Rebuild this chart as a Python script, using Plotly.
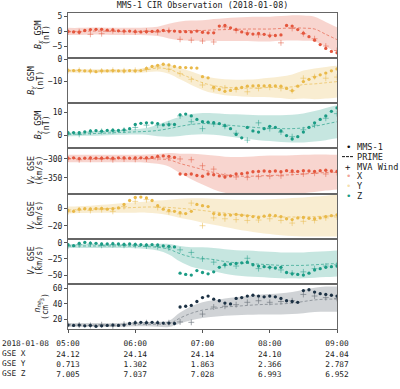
import pandas as pd
import plotly.graph_objects as go
from plotly.subplots import make_subplots

# ---------------- data ----------------
t_mms = pd.date_range("2018-01-08 05:00", "2018-01-08 09:00", freq="5min")
t_prime = pd.date_range("2018-01-08 05:00", "2018-01-08 09:00", freq="10min")

bx_mms = [0, -0.2, -0.3, 0.3, 0.6, 0.7, 0.7, 0.4, 0.5, 0.2, 0.1, 0.1,
          -0.1, -0.2, -0.1, 0, 0.2, 0.3, 0.1, 0.1, -0.1, -0.1, -0.2, 0.1,
          -0.3, -0.5, -0.5, 1.8, 2.0, 1.2, 0.6, -0.2, -0.8, -0.9, -0.7, -1.0,
          -1.5, -1.4, -1.2, 2.0, 1.8, 0.6, -0.6, -1.8, -3.0, -4.5, -5.8, -6.8,
          -7.3]
bx_prime = [0, 0, 0.1, 0.1, 0, 0, 0, 0, 0, 0.1, 0.2, 0.3,
            0.3, 0.5, 0.6, 0.7, 0.8, 0.8, 0.8, 1.0, 1.2, 1.1, 0.8, -1.0, -2.8]
bx_half = [1.2, 1.2, 1.2, 1.2, 1.2, 1.2, 1.2, 1.3, 1.6, 2.5, 3.2, 3.4,
           3.5, 3.7, 3.9, 4.0, 4.1, 4.2, 4.2, 4.2, 4.3, 4.3, 4.2, 4.2, 4.2]
bx_mva = [-0.2, -0.1, -1.0, -0.8, 0.2, -0.1, -0.2, 0.1, -0.3, 0.3, -2.7, -3.0,
          -3.3, -3.6, 1.5, 0.3, -0.5, -1.2, -1.3, -3.9, 1.0, -0.8, -2.5, -5.0, -6.5]

by_mms = [-5.0, -5.1, -5.0, -5.2, -5.3, -5.6, -5.2, -5.2, -5.1, -5.2, -5.3, -5.1,
          -5.2, -5.1, -4.2, -3.3, -2.8, -2.3, -2.6, -3.3, -3.7, -3.8, -3.9, -4.0,
          -7.8, -8.3, -12.5, -13.5, -14.3, -13.9, -13.0, -12.6, -12.0, -11.9, -11.8, -11.9,
          -11.8, -11.9, -12.0, -13.0, -14.0, -12.0, -10.0, -9.0, -8.0, -7.0, -6.2, -5.2,
          -4.4]
by_prime = [-5.2, -5.3, -5.3, -5.3, -5.3, -5.3, -5.3, -4.8, -4.0, -4.5, -6.5, -8.5,
            -10.5, -11.8, -12.5, -12.8, -12.9, -12.8, -12.6, -12.5, -12.3, -11.3, -11.0, -10.5, -10.0]
by_half = [0.8, 0.8, 0.8, 0.8, 0.8, 0.8, 0.8, 1.0, 1.5, 2.0, 2.5, 3.0,
           3.2, 3.4, 3.5, 3.6, 3.8, 4.0, 4.3, 4.8, 5.5, 6.2, 6.8, 7.0, 7.0]
by_mva = [-5.2, -5.0, -5.4, -5.3, -5.0, -5.2, -5.0, -4.5, -3.5, -4.5, -6.5, -9.0,
          -11.5, -13.2, -12.8, -13.5, -14.5, -13.0, -12.5, -13.0, -14.0, -8.5, -7.8, -8.5, -8.0]

bz_mms = [1.2, 1.3, 1.2, 1.6, 2.0, 2.1, 1.9, 2.2, 2.3, 2.2, 2.5, 3.0,
          4.8, 5.3, 5.5, 5.5, 5.2, 4.6, 4.7, 4.8, 9.0, 9.3, 8.5, 7.0,
          6.0, 5.8, 5.6, 5.2, 4.3, 3.0, 0.5, -1.0, 3.5, 2.0, 1.5, 3.0,
          4.0, 3.5, 2.0, 0.0, -1.5, -0.5, 1.5, 3.5, 5.5, 7.0, 8.5, 10.5,
          12.0]
bz_prime = [0.5, 0.6, 0.8, 1.0, 1.2, 1.4, 1.6, 1.8, 2.2, 3.0, 4.0, 4.8,
            5.2, 5.0, 4.6, 4.2, 3.8, 3.4, 3.2, 3.0, 3.0, 3.3, 4.0, 5.0, 6.0]
bz_half = [0.8, 0.8, 0.9, 1.0, 1.0, 1.1, 1.2, 1.5, 2.5, 3.5, 4.2, 4.5,
           4.6, 4.7, 4.8, 5.0, 5.2, 5.4, 5.6, 5.8, 6.0, 6.3, 6.6, 7.0, 7.2]
bz_mva = [0.8, 0.5, 1.5, 1.8, 2.0, 2.3, 3.5, 4.5, 4.5, 5.0, 8.5, 6.0,
          3.0, 5.0, 4.0, 1.0, -2.0, 5.5, 3.0, 1.5, -0.5, 2.5, 4.5, 7.5, 9.5]

vx_mms = [-298, -297, -299, -298, -297, -298, -298, -297, -298, -297, -297, -298,
          -297, -297, -297, -296, -293, -292, -293, -296, -340, -341, -340, -344,
          -346, -340, -342, -345, -348, -345, -340, -339, -337, -334, -333, -332,
          -333, -332, -334, -331, -332, -333, -331, -332, -333, -331, -330, -332,
          -333]
vx_prime = [-299, -299, -299, -299, -299, -299, -299, -299, -300, -302, -312, -320,
            -328, -336, -342, -345, -346, -345, -344, -343, -342, -340, -338, -336, -335]
vx_half = [10, 10, 10, 10, 10, 10, 10, 11, 13, 18, 26, 34,
           40, 45, 48, 50, 52, 53, 53, 52, 52, 51, 50, 48, 46]
vx_mva = [-300, -302, -301, -300, -302, -300, -301, -300, -296, -298, -300, -302,
          -318, -327, -345, -348, -349, -347, -346, -345, -336, -340, -338, -340, -336]

vy_mms = [-2.5, -3.5, -1.0, -0.5, -0.8, -0.4, -0.2, -1.0, -0.5, 0.5, 4.5, 9.0,
          12.5, 13.0, 12.0, 9.0, 3.0, -1.0, -2.5, -3.5, -5.0, -6.0, -3.5, 4.5,
          3.0, 2.0, -6.0, -7.0, -7.5, -7.8, -7.0, -8.0, -8.6, -9.5, -10.5, -9.0,
          -8.0, -8.5, -9.5, -12.0, -13.0, -11.0, -10.5, -11.5, -12.0, -11.0, -9.5, -8.5,
          -7.5]
vy_prime = [-2, -1.5, -1, -0.5, 0, 0.5, 1, 1.5, 1.5, 1, 0, -1,
            -2.5, -4, -5.5, -7, -8, -9, -9.5, -10, -10, -10, -9.5, -9, -8.5]
vy_half = [4, 4, 4, 4.5, 5, 5.5, 6, 6.5, 7.5, 9, 11, 12.5,
           14, 15, 16, 17, 18, 19, 20, 21, 22, 22.5, 23, 23.5, 24]
vy_mva = [-4, -2, -2.5, -1.5, -3.5, 2, 8, 10, 1, -4, -6.5, 6,
          -20, -11, -12, -13, -14, -13.5, -12, -14, -17, -15, -14, -11, -10]

vz_mms = [-3.0, -4.5, -1.0, 0.5, -0.5, -1.0, -2.0, -2.0, -1.5, -2.0, -2.5, -2.0,
          -2.5, -3.0, -3.5, -3.0, -3.5, -5.0, -5.5, -6.5, -47, -49, -50, -43,
          -46, -48, -45, -38, -34, -33, -32, -31, -30, -34, -36, -37,
          -38, -39, -38, -46, -48, -49, -50, -47, -42, -40, -38, -37,
          -36]
vz_prime = [-5, -5, -5, -5, -5, -5, -5.5, -6, -7, -10, -17, -22,
            -24, -26, -29, -31, -32, -33, -34, -35, -35, -35, -34, -33, -32]
vz_half = [3, 3, 3, 3, 3, 3, 3, 3.5, 5, 8, 12, 15,
           17, 18, 19, 19.5, 20, 20, 20, 20, 20, 20, 20, 20, 20]
vz_mva = [-5, -3, -2, -4, -3, -4, -4, -5, -6, -8, -11, -15,
          -25, -30, -35, -36, -24, -40, -38, -42, -47, -45, -40, -36, -34]

n_mms = [13, 12.5, 13, 12, 12.5, 11.5, 12, 12.5, 13, 12.5, 13, 15,
         16, 16.5, 16, 16.5, 16, 15.5, 15.5, 15, 36, 37, 38, 43,
         48, 50, 46, 44, 41, 40, 47, 48, 50, 51, 50, 49,
         50, 49, 47, 44, 43, 42, 57, 58, 55, 53, 52, 51,
         50]
n_prime = [13, 13, 13, 13, 13, 13.5, 14, 14, 14, 14.5, 22, 28,
           32, 34, 36, 37, 38, 39, 39.5, 40, 41, 43, 45, 46, 46]
n_half = [2.5, 2.5, 2.5, 2.5, 2.5, 2.5, 2.5, 2.5, 3, 4, 7, 9,
          10, 10.5, 11, 11.5, 12, 12.5, 13, 13.5, 14, 15, 15.5, 16, 16]
n_mva = [14, 13, 12.5, 13.5, 12, 14, 15.5, 16, 15.5, 16, 17, 16.5,
         27, 36, 37, 39, 42, 44, 42, 43, 44, 52, 50, 48, 47]

tick_times = ["2018-01-08 05:00", "2018-01-08 06:00", "2018-01-08 07:00",
              "2018-01-08 08:00", "2018-01-08 09:00"]
tick_hhmm = ["05:00", "06:00", "07:00", "08:00", "09:00"]
gse_x = ["24.12", "24.14", "24.14", "24.10", "24.04"]
gse_y = ["0.713", "1.302", "1.863", "2.366", "2.787"]
gse_z = ["7.005", "7.037", "7.028", "6.993", "6.952"]

# ---------------- styling ----------------
FONT = "DejaVu Sans Mono"
RED = (228, 87, 62)
YEL = (233, 185, 73)
TEAL = (27, 156, 133)
NAVY = (28, 49, 68)
GREY = (110, 118, 126)


def rgba(c, a):
    return "rgba(%d,%d,%d,%s)" % (c[0], c[1], c[2], a)


panels = [
    dict(mms=bx_mms, prime=bx_prime, half=bx_half, mva=bx_mva, c=RED, pc=RED,
         t1="<i>B<sub>X</sub></i> GSM", t2="(nT)", tx=(38.5, 45.5), rng=[-9.1, 6.25], tv=[-5, 0, 5]),
    dict(mms=by_mms, prime=by_prime, half=by_half, mva=by_mva, c=YEL, pc=YEL,
         t1="<i>B<sub>Y</sub></i> GSM", t2="(nT)", tx=(32, 40), rng=[-19.6, 0.4], tv=[-10, 0]),
    dict(mms=bz_mms, prime=bz_prime, half=bz_half, mva=bz_mva, c=TEAL, pc=TEAL,
         t1="<i>B<sub>Z</sub></i> GSM", t2="(nT)", tx=(38.5, 45.5), rng=[-5.6, 14], tv=[0, 10]),
    dict(mms=vx_mms, prime=vx_prime, half=vx_half, mva=vx_mva, c=RED, pc=RED,
         t1="<i>V<sub>X</sub></i> GSE", t2="(km/s)", tx=(30.5, 38.5), rng=[-392, -272], tv=[-350, -300]),
    dict(mms=vy_mms, prime=vy_prime, half=vy_half, mva=vy_mva, c=YEL, pc=YEL,
         t1="<i>V<sub>Y</sub></i> GSE", t2="(km/s)", tx=(31.5, 39.5), rng=[-35, 17], tv=[-20, 0]),
    dict(mms=vz_mms, prime=vz_prime, half=vz_half, mva=vz_mva, c=TEAL, pc=TEAL,
         t1="<i>V<sub>Z</sub></i> GSE", t2="(km/s)", tx=(31.5, 39.5), rng=[-63.5, 6.2], tv=[-50, -25, 0]),
    dict(mms=n_mms, prime=n_prime, half=n_half, mva=n_mva, c=NAVY, pc=GREY,
         t1="<i>n<sub>ne</sub></i>", t2="(cm<sup>-3</sup>)", tx=(37, 44.5), rng=[8, 65.5], tv=[20, 40, 60]),
]

PL, PR, PT, PB = 68, 337, 10, 351
W = PR - PL
H = PB - PT


def px(xp):
    return (xp - PL) / W


def py(yp):
    return (PB - yp) / H


fig = make_subplots(rows=7, cols=1, shared_xaxes=True, vertical_spacing=0)
annotations = []

for i, p in enumerate(panels, start=1):
    lo = [c - h for c, h in zip(p["prime"], p["half"])]
    hi = [c + h for c, h in zip(p["prime"], p["half"])]
    band_alpha = 0.32 if p["pc"] == GREY else 0.25
    fig.add_trace(go.Scatter(x=t_prime, y=lo, mode="lines", line=dict(width=0, shape="spline"),
                             showlegend=False, hoverinfo="skip"), row=i, col=1)
    fig.add_trace(go.Scatter(x=t_prime, y=hi, mode="lines", line=dict(width=0, shape="spline"),
                             fill="tonexty", fillcolor=rgba(p["pc"], band_alpha),
                             showlegend=False, hoverinfo="skip"), row=i, col=1)
    fig.add_trace(go.Scatter(x=t_prime, y=p["prime"], mode="lines",
                             line=dict(color=rgba(p["pc"], 0.7), width=0.9, dash="3px,2px", shape="spline"),
                             showlegend=False), row=i, col=1)
    mva_col = rgba(GREY, 0.65) if p["pc"] == GREY else rgba(p["c"], 0.5)
    fig.add_trace(go.Scatter(x=t_prime, y=p["mva"], mode="markers",
                             marker=dict(symbol="cross-thin", size=4.2,
                                         line=dict(width=1, color=mva_col)),
                             showlegend=False), row=i, col=1)
    fig.add_trace(go.Scatter(x=t_mms, y=p["mms"], mode="markers",
                             marker=dict(size=3.3, color=rgba(p["c"], 1), line=dict(width=0)),
                             showlegend=False), row=i, col=1)

    fig.update_yaxes(row=i, col=1, range=p["rng"], tickvals=p["tv"], ticks="outside",
                     ticklen=3, tickcolor="#555", tickfont=dict(family=FONT, size=8, color="#222"),
                     showline=True, mirror=True, linecolor="#666", linewidth=1,
                     showgrid=False, zeroline=False)
    fig.update_xaxes(row=i, col=1, range=["2018-01-08 05:00", "2018-01-08 09:00"],
                     showline=True, mirror=True, linecolor="#666", linewidth=1,
                     showgrid=False, zeroline=False, showticklabels=False, ticks="")

    yc = PT + (i - 0.5) * H / 7
    for txt, xc in ((p["t1"], p["tx"][0]), (p["t2"], p["tx"][1])):
        annotations.append(dict(text=txt, textangle=-90, xref="paper", yref="paper",
                                x=px(xc), y=py(yc), xanchor="center", yanchor="middle",
                                showarrow=False, font=dict(family=FONT, size=8.3, color="#222")))

ticktext = ["%s<br>%s<br>%s<br>%s" % v for v in zip(tick_hhmm, gse_x, gse_y, gse_z)]
fig.update_xaxes(row=7, col=1, tickvals=tick_times, ticktext=ticktext, showticklabels=True,
                 ticks="outside", ticklen=3, tickcolor="#555", ticklabelstandoff=4,
                 tickfont=dict(family=FONT, size=7.8, color="#222"))

annotations.append(dict(text="2018-01-08<br>GSE X<br>GSE Y<br>GSE Z", xref="paper", yref="paper",
                        x=px(0), y=0, xanchor="left", yanchor="top", align="left", showarrow=False,
                        yshift=-8, font=dict(family=FONT, size=7.8, color="#222")))

legend_items = [
    ("MMS-1", "•", "#111", 155),
    ("PRIME", None, "#111", 165),
    ("MVA Wind", "+", "#111", 176),
    ("X", "•", rgba(RED, 0.55), 186),
    ("Y", "•", rgba(YEL, 0.45), 197),
    ("Z", "•", rgba(TEAL, 1), 207),
]
shapes = []
for label, sym, col, yy in legend_items:
    annotations.append(dict(text=label, xref="paper", yref="paper", x=px(355), y=py(yy),
                            xanchor="left", yanchor="middle", showarrow=False,
                            font=dict(family=FONT, size=8.6, color="#222")))
    if sym is None:
        shapes.append(dict(type="line", xref="paper", yref="paper", x0=px(342), x1=px(354),
                           y0=py(yy), y1=py(yy), line=dict(color=col, width=1, dash="3px,1px")))
    else:
        annotations.append(dict(text=sym, xref="paper", yref="paper", x=px(348), y=py(yy),
                                xanchor="center", yanchor="middle", showarrow=False,
                                font=dict(family=FONT, size=9, color=col)))

fig.update_layout(
    width=400, height=389,
    margin=dict(l=PL, r=400 - PR, t=PT, b=389 - PB),
    paper_bgcolor="white", plot_bgcolor="white",
    showlegend=False,
    title=dict(text="MMS-1 CIR Observation (2018-01-08)", xref="paper", x=0.5, xanchor="center",
               yref="container", y=1 - 5 / 389, yanchor="middle",
               font=dict(family=FONT, size=8.4, color="#222")),
    annotations=annotations,
    shapes=shapes,
)

fig.write_html("out.html", config={"displayModeBar": False},
               post_script="document.body.style.margin='0px';")
